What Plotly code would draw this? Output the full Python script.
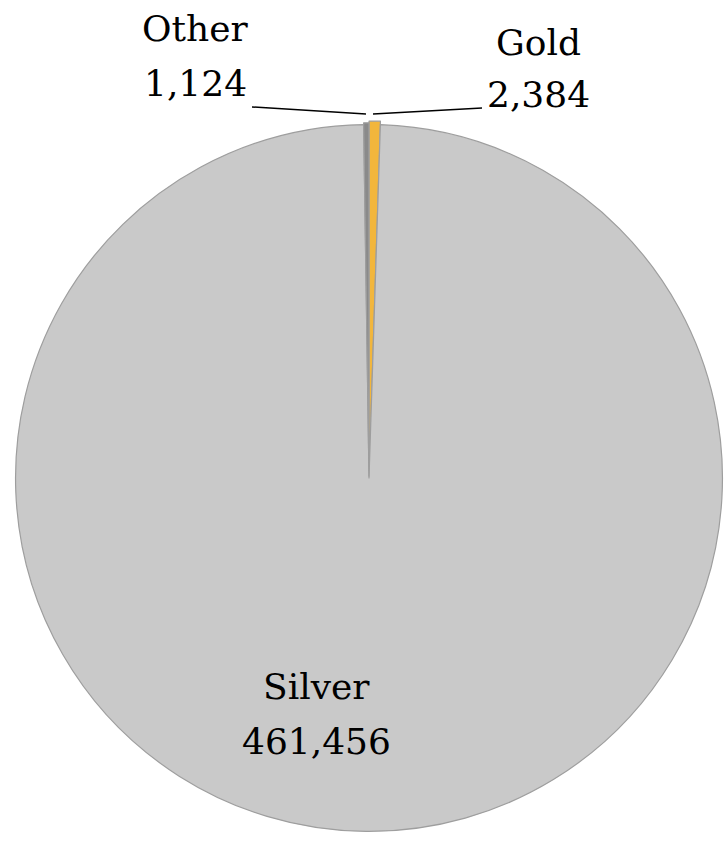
import plotly.graph_objects as go

labels = ["Gold", "Silver", "Other"]
values = [2384, 461456, 1124]
colors = ["#F2B63C", "#C9C9C9", "#8A8A8A"]
pulls = [0.01, 0.0, 0.005]

W, H = 726, 841
cx, cy, r = 369, 478, 357

fig = go.Figure(go.Pie(
    labels=labels, values=values, sort=False, direction="clockwise", rotation=0,
    marker=dict(colors=colors, line=dict(color="#9E9E9E", width=1.2)),
    pull=pulls, textinfo="none", hoverinfo="label+value", showlegend=False,
    domain=dict(x=[(cx - r) / W, min(1.0, (cx + r) / W)],
                y=[(H - cy - r) / H, (H - cy + r) / H]),
))

font = dict(family="DejaVu Serif", size=36, color="black")

# per label: x centre, y centre of name line, y centre of value line (px from top)
label_pos = {"Other": (195, 28, 84), "Gold": (538, 42, 95), "Silver": (316, 686, 741)}
anns = []
for lab, val in zip(labels, values):
    x, y1, y2 = label_pos[lab]
    for t, y in ((lab, y1), (f"{val:,}", y2)):
        anns.append(dict(x=x / W, y=1 - y / H, xref="paper", yref="paper", text=t,
                         showarrow=False, font=font, xanchor="center", yanchor="middle"))

# leader lines
leaders = [((252, 107), (366, 114)), ((373, 114), (482, 108))]
shapes = []
for (x0, y0), (x1, y1) in leaders:
    shapes.append(dict(type="line", xref="paper", yref="paper",
                       x0=x0 / W, y0=1 - y0 / H, x1=x1 / W, y1=1 - y1 / H,
                       line=dict(color="black", width=1.5)))

fig.update_layout(width=W, height=H, margin=dict(l=0, r=0, t=0, b=0),
                  paper_bgcolor="white", plot_bgcolor="white",
                  font=dict(family="DejaVu Serif"),
                  annotations=anns, shapes=shapes)

fig.write_html("out.html")
